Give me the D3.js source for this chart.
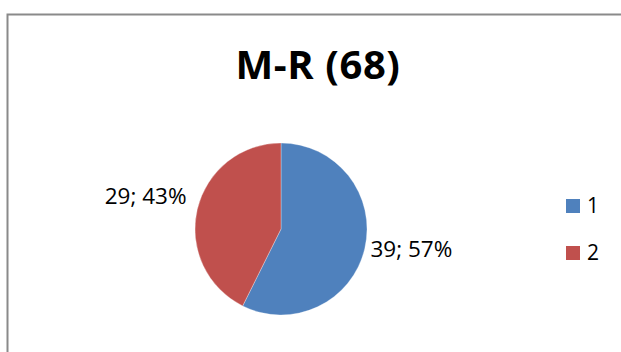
<!DOCTYPE html>
<html>
<head>
<meta charset="utf-8">
<script src="https://cdn.jsdelivr.net/npm/d3@7"></script>
<style>
  html, body { margin: 0; padding: 0; background: #fff; }
  svg { display: block; }
</style>
</head>
<body>
<svg id="chart" width="621" height="352"></svg>
<script>
// Chart data
const title = "M-R (68)";
const categories = ["1", "2"];
const values = [39, 29];
const colors = ["#4F81BD", "#C0504D"];

const svg = d3.select("#chart");
const W = 621, H = 352;
const font = "'Open Sans', sans-serif";

// Chart area frame (runs past the right and bottom edges)
svg.append("path")
  .attr("d", `M7.5,${H + 5} V14.5 H${W + 5}`)
  .attr("fill", "none")
  .attr("stroke", "#8a8a8a")
  .attr("stroke-width", 2);

// Title
svg.append("text")
  .attr("x", 318)
  .attr("y", 79)
  .attr("text-anchor", "middle")
  .attr("font-family", font)
  .attr("font-weight", "bold")
  .attr("font-size", 40)
  .attr("letter-spacing", 0.6)
  .attr("fill", "#000")
  .text(title);

// Pie
const cx = 281, cy = 229, r = 86;
const total = d3.sum(values);
const pie = d3.pie().sort(null).value(d => d.value);
const arcs = pie(categories.map((c, i) => ({ cat: c, value: values[i], color: colors[i] })));
const arc = d3.arc().innerRadius(0).outerRadius(r);

const g = svg.append("g").attr("transform", `translate(${cx},${cy})`);
g.selectAll("path.slice")
  .data(arcs)
  .join("path")
  .attr("class", "slice")
  .attr("d", arc)
  .attr("fill", d => d.data.color)
  .attr("stroke", "#ffffff")
  .attr("stroke-opacity", 0.5)
  .attr("stroke-width", 0.6);

// Data labels: "value; percent", placed just outside the slice
const labelArc = d3.arc().innerRadius(r + 8).outerRadius(r + 8);
g.selectAll("text.lbl")
  .data(arcs)
  .join("text")
  .attr("class", "lbl")
  .attr("font-family", font)
  .attr("font-size", 22.5)
  .attr("fill", "#000")
  .attr("text-anchor", d => (d.startAngle + d.endAngle) / 2 < Math.PI ? "start" : "end")
  .attr("x", d => {
    const mid = (d.startAngle + d.endAngle) / 2;
    return labelArc.centroid(d)[0] + (mid < Math.PI ? -2 : -3);
  })
  .attr("y", d => {
    const mid = (d.startAngle + d.endAngle) / 2;
    return mid < Math.PI ? labelArc.centroid(d)[1] + 6 : labelArc.centroid(d)[1] - 3;
  })
  .text(d => `${d.data.value}; ${Math.round(d.data.value / total * 100)}%`);

// Legend
const legendY = d3.scalePoint().domain(categories).range([206, 253]);
const lg = svg.append("g");
lg.selectAll("rect")
  .data(arcs)
  .join("rect")
  .attr("x", 566)
  .attr("y", d => legendY(d.data.cat) - 7)
  .attr("width", 14)
  .attr("height", 14)
  .attr("fill", d => d.data.color);
lg.selectAll("text")
  .data(arcs)
  .join("text")
  .attr("x", 587)
  .attr("y", d => legendY(d.data.cat) + 7)
  .attr("font-family", font)
  .attr("font-size", 21)
  .attr("fill", "#000")
  .text(d => d.data.cat);
</script>
</body>
</html>
